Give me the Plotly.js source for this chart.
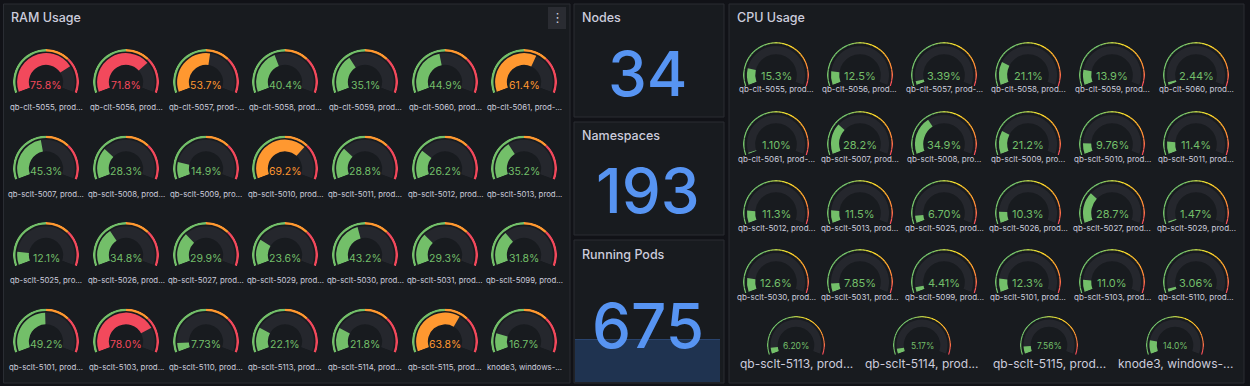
<!DOCTYPE html>
<html><head><meta charset="utf-8">
<script src="https://cdn.plot.ly/plotly-3.0.1.min.js"></script>
<style>html,body{margin:0;padding:0;background:#111217;}#chart{width:1250px;height:386px;}</style>
</head><body><div id="chart"></div>
<script>
// ---------------- DATA ----------------
const ramLabels = [
  "qb-clt-5055, prod...", "qb-clt-5056, prod...", "qb-clt-5057, prod-...", "qb-clt-5058, prod...", "qb-clt-5059, prod...", "qb-clt-5060, prod...", "qb-clt-5061, prod-...",
  "qb-sclt-5007, prod...", "qb-sclt-5008, prod...", "qb-sclt-5009, pro...", "qb-sclt-5010, prod...", "qb-sclt-5011, prod...", "qb-sclt-5012, prod...", "qb-sclt-5013, prod...",
  "qb-sclt-5025, pro...", "qb-sclt-5026, prod...", "qb-sclt-5027, prod...", "qb-sclt-5029, prod...", "qb-sclt-5030, prod...", "qb-sclt-5031, prod...", "qb-sclt-5099, prod...",
  "qb-sclt-5101, prod...", "qb-sclt-5103, prod...", "qb-sclt-5110, prod...", "qb-sclt-5113, prod...", "qb-sclt-5114, prod...", "qb-sclt-5115, prod...", "knode3, windows-..."
];
const ramValues = [
  75.8, 71.8, 53.7, 40.4, 35.1, 44.9, 61.4,
  45.3, 28.3, 14.9, 69.2, 28.8, 26.2, 35.2,
  12.1, 34.8, 29.9, 23.6, 43.2, 29.3, 31.8,
  49.2, 78.0, 7.73, 22.1, 21.8, 63.8, 16.7
];
const cpuLabels = [
  "qb-clt-5055, prod...", "qb-clt-5056, prod...", "qb-clt-5057, prod-...", "qb-clt-5058, prod...", "qb-clt-5059, prod...", "qb-clt-5060, prod...",
  "qb-clt-5061, prod-...", "qb-sclt-5007, prod...", "qb-sclt-5008, pro...", "qb-sclt-5009, pro...", "qb-sclt-5010, prod...", "qb-sclt-5011, prod...",
  "qb-sclt-5012, prod...", "qb-sclt-5013, prod...", "qb-sclt-5025, prod...", "qb-sclt-5026, prod...", "qb-sclt-5027, prod...", "qb-sclt-5029, prod...",
  "qb-sclt-5030, prod...", "qb-sclt-5031, prod...", "qb-sclt-5099, prod...", "qb-sclt-5101, prod...", "qb-sclt-5103, prod...", "qb-sclt-5110, prod...",
  "qb-sclt-5113, prod...", "qb-sclt-5114, prod...", "qb-sclt-5115, prod...", "knode3, windows-..."
];
const cpuValues = [
  15.3, 12.5, 3.39, 21.1, 13.9, 2.44,
  1.10, 28.2, 34.9, 21.2, 9.76, 11.4,
  11.3, 11.5, 6.70, 10.3, 28.7, 1.47,
  12.6, 7.85, 4.41, 12.3, 11.0, 3.06,
  6.20, 5.17, 7.56, 14.0
];
const ramThresholds = [50, 70];
const cpuThresholds = [80, 90];
const statTitles = ["Nodes", "Namespaces", "Running Pods"];
const statValues = [34, 193, 675];
const podsHistory = [675, 675, 675, 675, 675, 675, 675, 675, 675, 675];

// ---------------- STYLE / LAYOUT ----------------
const W = 1250, H = 386;
const px = x => x / W, py = y => 1 - y / H;
const SPAN = 220, START = 200, DROP = Math.sin(20 * Math.PI / 180);
const GREEN = '#73bf69', ORANGE = '#ff9830', RED = '#f2495c', YELLOW = '#fade2a';
const TRACK = '#25272d', TEXT = '#ccccdc', FONT = 'Inter, Roboto, sans-serif';
const toDeg = p => p / 100 * SPAN;

function thrColor(v, thr) { return v >= thr[1] ? RED : (v >= thr[0] ? ORANGE : GREEN); }
function hex2rgb(h) { return [1, 3, 5].map(i => parseInt(h.substr(i, 2), 16)); }
function mix(a, b, t) { const A = hex2rgb(a), B = hex2rgb(b); return 'rgb(' + A.map((v, i) => Math.round(v + (B[i] - v) * t)).join(',') + ')'; }
const cpuStops = [[0, GREEN], [40, GREEN], [60, YELLOW], [80, ORANGE], [100, RED]];
function gradColor(p) {
  for (let i = 1; i < cpuStops.length; i++) {
    if (p <= cpuStops[i][0]) { const a = cpuStops[i - 1], b = cpuStops[i]; return mix(a[1], b[1], (p - a[0]) / (b[0] - a[0])); }
  }
  return RED;
}

const traces = [], layout = {
  width: W, height: H, margin: {l: 0, r: 0, t: 0, b: 0},
  paper_bgcolor: '#111217', plot_bgcolor: 'rgba(0,0,0,0)', showlegend: false,
  shapes: [], annotations: [], font: {family: FONT, color: TEXT}
};
let pIdx = 0;

function addGauge(value, label, cx, cy, R, o) {
  pIdx++;
  const key = pIdx === 1 ? 'polar' : 'polar' + pIdx;
  const theta = [], width = [], base = [], r = [], color = [];
  if (o.gradient) {
    const n = 44;
    for (let i = 0; i < n; i++) {
      const a = i * 100 / n, b = (i + 1) * 100 / n;
      theta.push(toDeg((a + b) / 2)); width.push(toDeg(b - a) + 0.3);
      base.push(o.ringIn); r.push(1 - o.ringIn); color.push(gradColor((a + b) / 2));
    }
  } else {
    const edges = [0, ...o.thr, 100], cols = [GREEN, ORANGE, RED];
    for (let i = 0; i < 3; i++) {
      theta.push(toDeg((edges[i] + edges[i + 1]) / 2)); width.push(toDeg(edges[i + 1] - edges[i]));
      base.push(o.ringIn); r.push(1 - o.ringIn); color.push(cols[i]);
    }
  }
  theta.push(toDeg(50)); width.push(SPAN); base.push(o.barIn); r.push(o.barOut - o.barIn); color.push(TRACK);
  const vc = thrColor(value, o.thr);
  theta.push(toDeg(value / 2)); width.push(toDeg(value)); base.push(o.barIn); r.push(o.barOut - o.barIn); color.push(vc);
  traces.push({type: 'barpolar', subplot: key, theta: theta, width: width, base: base, r: r,
    marker: {color: color, line: {width: 0}}, hoverinfo: 'skip'});
  layout[key] = {
    domain: {x: [px(cx - R), px(cx + R)], y: [py(cy + DROP * R), py(cy - R)]},
    sector: [-20, 200], bgcolor: 'rgba(0,0,0,0)', barmode: 'overlay', bargap: 0, hole: 0,
    radialaxis: {visible: false, range: [0, 1]},
    angularaxis: {visible: false, rotation: START, direction: 'clockwise'}
  };
  layout.annotations.push({xref: 'paper', yref: 'paper', x: px(cx + o.valDx), y: py(cy + o.valDy), text: value.toPrecision(3) + '%',
    showarrow: false, xanchor: 'center', yanchor: 'middle', font: {size: o.valSize, color: vc, family: FONT}});
  layout.annotations.push({xref: 'paper', yref: 'paper', x: px(cx), y: py(cy + o.labDy), text: label,
    showarrow: false, xanchor: 'center', yanchor: 'middle', font: {size: o.labSize, color: TEXT, family: FONT}});
}

// panels
const panels = [[3.5, 4, 570, 383], [574, 4, 724, 117], [574, 122, 724, 235], [574, 240, 724, 383], [729, 4, 1244, 383]];
panels.forEach(p => layout.shapes.push({type: 'rect', xref: 'paper', yref: 'paper', layer: 'below',
  x0: px(p[0]), x1: px(p[2]), y0: py(p[3]), y1: py(p[1]), fillcolor: '#181b1f', line: {color: '#2a2d33', width: 1}}));
layout.shapes.push({type: 'rect', xref: 'paper', yref: 'paper', layer: 'below', x0: px(548), x1: px(566), y0: py(29), y1: py(7),
  fillcolor: '#2a2c32', line: {width: 0}});
layout.annotations.push({xref: 'paper', yref: 'paper', x: px(557), y: py(18), text: '⋮', showarrow: false,
  font: {size: 13, color: TEXT, family: 'DejaVu Sans'}, xanchor: 'center', yanchor: 'middle'});

function title(t, x, y) {
  layout.annotations.push({xref: 'paper', yref: 'paper', x: px(x), y: py(y), text: t, showarrow: false,
    xanchor: 'left', yanchor: 'middle', font: {size: 12.5, color: TEXT, family: FONT, weight: 500}});
}
title('RAM Usage', 9, 18);
title('CPU Usage', 735, 18);

const statTitleY = [18, 136, 254], statValY = [73, 190.5, 325];
statTitles.forEach((t, i) => {
  title(t, 580, statTitleY[i]);
  layout.annotations.push({xref: 'paper', yref: 'paper', x: px(648), y: py(statValY[i]), text: String(statValues[i]), showarrow: false,
    xanchor: 'center', yanchor: 'middle', font: {size: 62, color: '#5794f2', family: FONT, weight: 500}});
});
traces.push({type: 'scatter', mode: 'lines', x: podsHistory.map((_, i) => i), y: podsHistory, xaxis: 'x', yaxis: 'y',
  fill: 'tozeroy', fillcolor: '#1f3350', line: {color: '#34578c', width: 1}, hoverinfo: 'skip'});
layout.xaxis = {domain: [px(575), px(720)], range: [0, podsHistory.length - 1], visible: false, fixedrange: true};
layout.yaxis = {domain: [py(382), py(339)], range: [0, Math.max(...podsHistory)], visible: false, fixedrange: true};

// RAM gauges
const ramX = [46, 126, 206, 285, 365, 445, 524], ramY = [82, 168.5, 255, 341.5];
const ramOpt = {thr: ramThresholds, ringIn: 0.925, barIn: 0.52, barOut: 0.875, valSize: 10.5, valDy: 3, valDx: 0, labDy: 25, labSize: 7.8};
ramValues.forEach((v, i) => addGauge(v, ramLabels[i], ramX[i % 7], ramY[Math.floor(i / 7)], 33, ramOpt));

// CPU gauges
const cpuX = [776, 860, 944, 1028, 1112, 1196], cpuY = [75, 144, 213, 282];
const cpuOpt = {thr: cpuThresholds, gradient: true, ringIn: 0.955, barIn: 0.63, barOut: 0.88, valSize: 11, valDy: 1, valDx: 0, labDy: 14.5, labSize: 8};
const cpuX5 = [796, 922, 1049, 1175];
const cpuOpt5 = {thr: cpuThresholds, gradient: true, ringIn: 0.955, barIn: 0.63, barOut: 0.88, valSize: 8.5, valDy: 1, valDx: 0, labDy: 18, labSize: 12};
cpuValues.forEach((v, i) => {
  if (i < 24) addGauge(v, cpuLabels[i], cpuX[i % 6], cpuY[Math.floor(i / 6)], 33, cpuOpt);
  else addGauge(v, cpuLabels[i], cpuX5[i - 24], 345, 29, cpuOpt5);
});

Plotly.newPlot('chart', traces, layout, {staticPlot: true, displayModeBar: false});
</script></body></html>
